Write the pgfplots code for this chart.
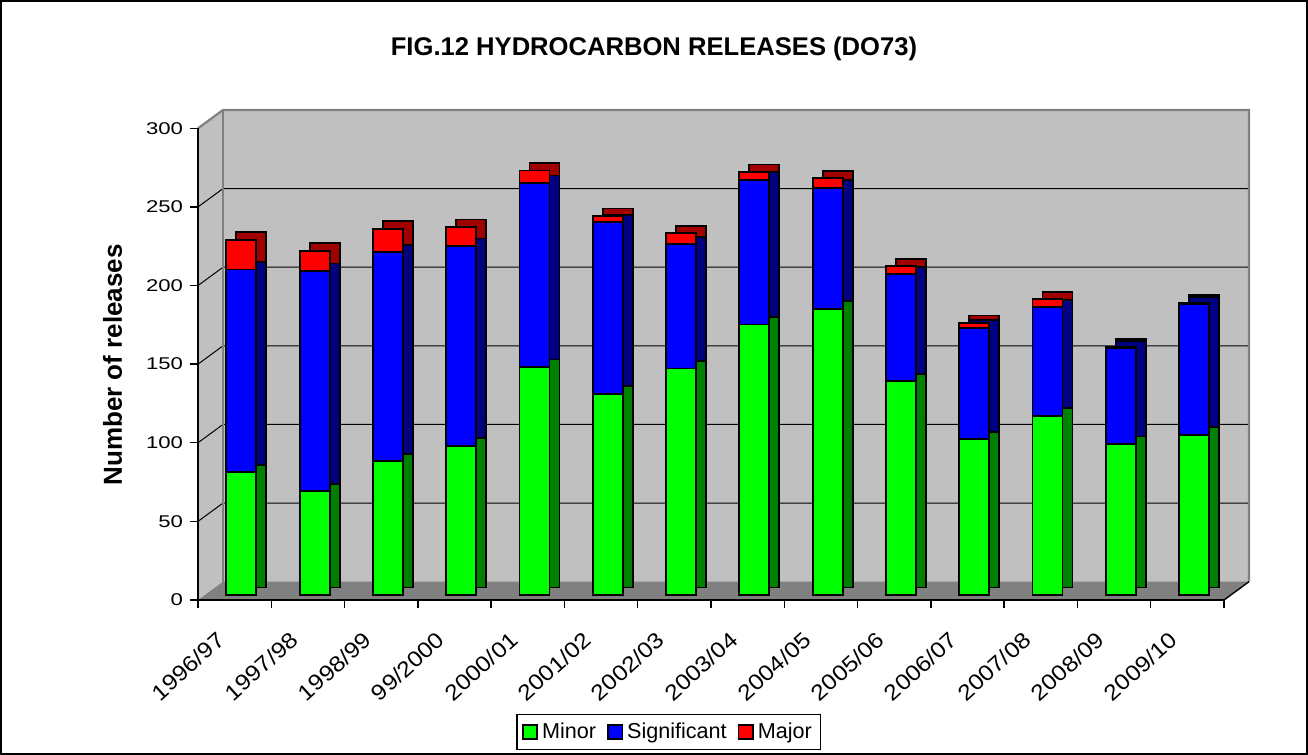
\documentclass[border=0pt]{standalone}
\usepackage{pgfplots}
\usepackage{pgfplotstable}
\pgfplotsset{compat=1.18}
\usepackage{fontspec}
\setmainfont{Liberation Sans}
\newfontfamily\ytickfont{Liberation Sans}[FakeStretch=1.3]
\newfontfamily\xtickfont{Liberation Sans}[FakeStretch=1.12]

\definecolor{wallc}{HTML}{C0C0C0}
\definecolor{floorc}{HTML}{808080}
\definecolor{edgec}{HTML}{808080}
\definecolor{mgreen}{HTML}{00FF00}
\definecolor{dgreen}{HTML}{008000}
\definecolor{mblue}{HTML}{0000FF}
\definecolor{dblue}{HTML}{000080}
\definecolor{mred}{HTML}{FF0000}
\definecolor{dred}{HTML}{A00000}

\pgfplotstableread{
x minor sig major
0 78 129 19
1 66 140 13
2 85 133 15
3 95 127 12
4 145 117 8
5 128 109 4
6 144 79 7
7 172 92 5
8 182 77 6
9 136 68 5
10 99 71 3
11 114 69 5
12 96 61 1
13 102 83 1
}\datatable

\tikzset{bk/.style={xshift=12.5pt,yshift=9.15pt}}
\pgfplotsset{
  geom/.style={scale only axis, width=513pt, height=235.85pt,
    at={(99pt,77.5pt)}, anchor=south west, clip=false},
}

\begin{document}
\begin{tikzpicture}
\useasboundingbox (0,0) rectangle (654pt,377.5pt);
% base axis: walls, grid, axis lines
\begin{axis}[geom,
  xmin=-0.5, xmax=13.5, ymin=0, ymax=300,
  axis on top,
  axis x line=bottom, axis y line=left,
  axis line style={-, black, line width=0.7pt},
  tick align=outside,
  major tick length=4pt,
  tick style={black, line width=0.7pt},
  ytick={0,50,...,300},
  xtick={-0.5,0.5,...,13.5},
  xticklabels={},
  extra x ticks={0,1,...,13},
  extra x tick labels={1996/97,1997/98,1998/99,99/2000,2000/01,2001/02,2002/03,2003/04,2004/05,2005/06,2006/07,2007/08,2008/09,2009/10},
  extra x tick style={major tick length=0pt},
  /pgf/number format/assume math mode=true,
  yticklabel style={font=\ytickfont\fontsize{8.5}{10}\selectfont},
  xticklabel style={font=\xtickfont\fontsize{11}{12}\selectfont, xshift=-9.5pt, yshift=-15pt, rotate=42, anchor=north east, inner sep=0pt},
]
\fill[wallc] ([bk]axis cs:-0.5,0) rectangle ([bk]axis cs:13.5,300);
\fill[wallc] (axis cs:-0.5,0) -- (axis cs:-0.5,300) -- ([bk]axis cs:-0.5,300) -- ([bk]axis cs:-0.5,0) -- cycle;
\fill[floorc] (axis cs:-0.5,0) -- ([bk]axis cs:-0.5,0) -- ([bk]axis cs:13.5,0) -- (axis cs:13.5,0) -- cycle;
\pgfplotsinvokeforeach{50,100,150,200,250}{
  \draw[black, line width=0.5pt] (axis cs:-0.5,#1) -- ([bk]axis cs:-0.5,#1) -- ([bk]axis cs:13.5,#1);
}
\draw[edgec, line width=1.1pt] (axis cs:-0.5,300) -- ([bk]axis cs:-0.5,300) -- ([bk]axis cs:13.5,300) -- ([bk]axis cs:13.5,0);
\draw[edgec, line width=1.1pt] ([bk]axis cs:-0.5,300) -- ([bk]axis cs:-0.5,0);
\draw[black, line width=0.7pt] (axis cs:13.5,0) -- ([bk]axis cs:13.5,0);
\end{axis}
% shadow (side/top faces)
\begin{axis}[geom, hide axis,
  xmin=-0.7279, xmax=13.2721, ymin=-7.95, ymax=292.05,
  ybar stacked, bar width=15pt]
\addplot[fill=dgreen, draw=black, line width=0.9pt] table[x=x,y=minor]{\datatable};
\addplot[fill=dblue, draw=black, line width=0.9pt] table[x=x,y=sig]{\datatable};
\addplot[fill=dred, draw=black, line width=0.9pt] table[x=x,y=major]{\datatable};
\end{axis}
% front faces + legend
\begin{axis}[geom, hide axis,
  xmin=-0.5914, xmax=13.4086, ymin=-3.18, ymax=296.82,
  ybar stacked, bar width=15pt,
  legend image code/.code={\draw[#1, draw=black, line width=0.8pt] (0pt,-3.6pt) rectangle (7.2pt,3.6pt);},
  legend style={at={(0.459,-0.2798)}, anchor=center, legend columns=3,
    draw=black, line width=0.6pt, font=\fontsize{10.8}{12}\selectfont,
    inner xsep=2.5pt, inner ysep=2pt,
    /tikz/every even column/.append style={column sep=3.5pt}},
]
\addplot[fill=mgreen, draw=black, line width=0.9pt] table[x=x,y=minor]{\datatable};
\addplot[fill=mblue, draw=black, line width=0.9pt] table[x=x,y=sig]{\datatable};
\addplot[fill=mred, draw=black, line width=0.9pt] table[x=x,y=major]{\datatable};
\legend{Minor,Significant,Major}
\end{axis}
\node[anchor=base, font=\bfseries\fontsize{12.8}{15}\selectfont] at (327pt,349.5pt) {FIG.12 HYDROCARBON RELEASES (DO73)};
\node[rotate=90, anchor=center, font=\bfseries\fontsize{13}{15}\selectfont] at (56.25pt,195pt) {Number of releases};
\draw[black, line width=0.6pt] (0.5pt,0.5pt) rectangle (653.5pt,377pt);
\end{tikzpicture}
\end{document}
